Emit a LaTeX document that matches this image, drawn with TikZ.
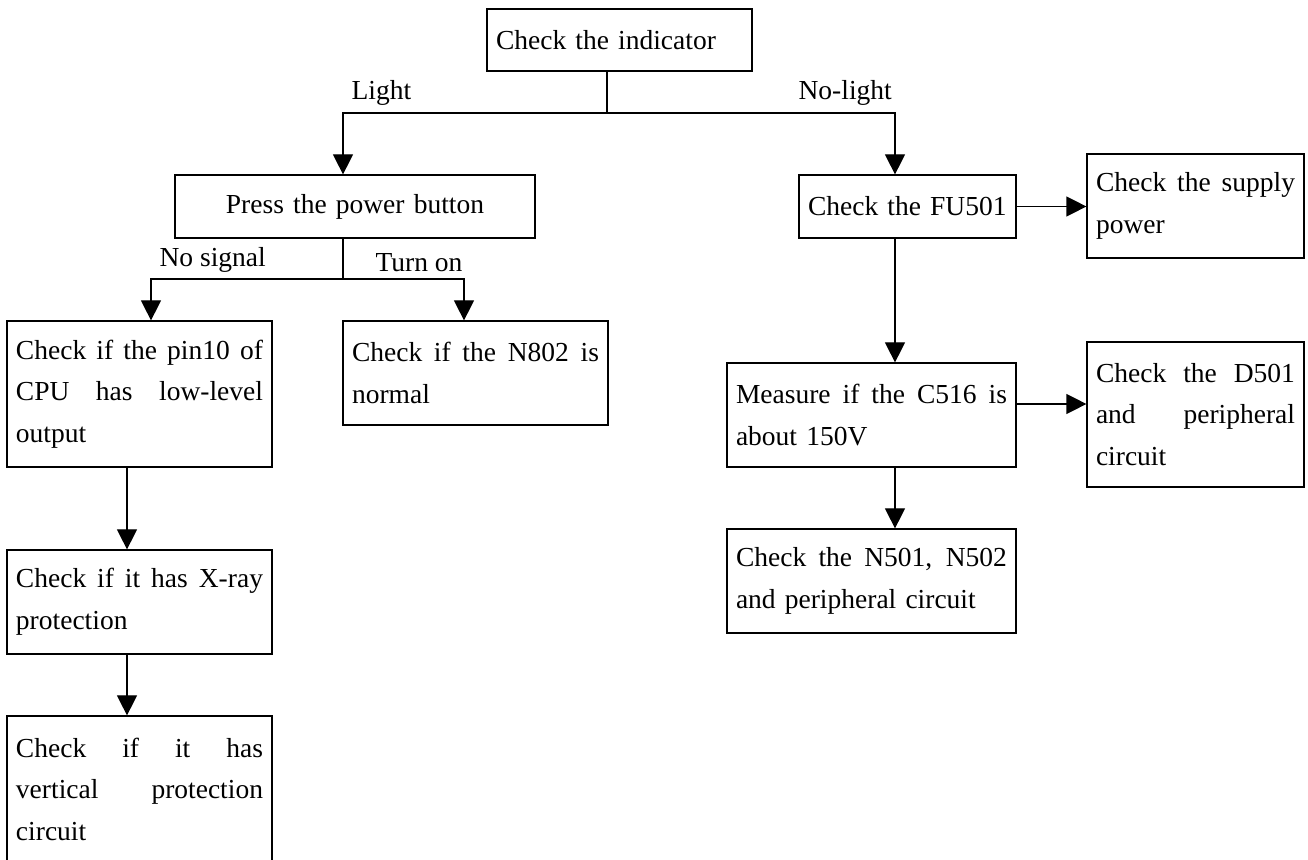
\documentclass[tikz,border=0pt]{standalone}
\usepackage{fontspec}
\setmainfont{Liberation Serif}
\usetikzlibrary{arrows.meta}

\newcommand{\jl}[1]{\makebox[\hsize][s]{\spaceskip=0.25em plus 1fil\relax #1}}

\tikzset{
  box/.style={draw, rectangle, inner xsep=4.5pt, inner ysep=0pt, text width=#1, align=left},
  box/.default=123.5pt,
  lbl/.style={anchor=base west, inner sep=0pt}
}

\begin{document}
\begin{tikzpicture}[x=0.5pt,y=-0.5pt,line width=0.6pt,>={Triangle[length=10pt,width=10pt]},font=\fontsize{13.75pt}{20.75pt}\selectfont]
   \useasboundingbox (0,0) rectangle (1308,860);
   % boxes
   \node[box,minimum height=31pt] (ind) at (619.5,40) {Check the indicator};
   \node[box=171pt,align=center,minimum height=31.5pt] (press) at (355,206.5) {Press the power button};
   \node[box=99.5pt,minimum height=31.5pt] (fu) at (907.5,206.5) {Check the FU501};
   \node[box=99.5pt,minimum height=52pt] (supply) at (1195.5,206) {\jl{Check the supply}\\ power};
   \node[box,minimum height=73pt] (pin) at (139.5,394) {\jl{Check if the pin10 of}\\ \jl{CPU has low-level}\\ output};
   \node[box,minimum height=52pt] (n802) at (475.5,373) {\jl{Check if the N802 is}\\ normal};
   \node[box=135.5pt,minimum height=52pt] (meas) at (871.5,415) {\jl{Measure if the C516 is}\\ about 150V};
   \node[box=99.5pt,minimum height=72.5pt] (d501) at (1195.5,414.5) {\jl{Check the D501}\\ \jl{and peripheral}\\ circuit};
   \node[box=135.5pt,minimum height=52pt] (n501) at (871.5,581) {\jl{Check the N501, N502}\\ and peripheral circuit};
   \node[box,minimum height=52pt] (xray) at (139.5,602) {\jl{Check if it has X-ray}\\ protection};
   \node[box,minimum height=73pt] (vert) at (139.5,789) {\jl{Check if it has}\\ \jl{vertical protection}\\ circuit};
   % labels
   \node[lbl] (light) at (351,100) {Light};
   \node[lbl] (nolight) at (798,100) {No-light};
   \node[lbl] (nosig) at (159,267) {No signal};
   \node[lbl] (turnon) at (375,272) {Turn on};
   % branches
   \coordinate (top split) at (607,113);
   \coordinate (mid split) at (343,279);
   \draw (ind.south -| top split) -- (top split);
   \draw[->] (top split) -| ([xshift=-6pt]press.north);
   \draw[->] (top split) -| ([xshift=-6.25pt]fu.north);
   \draw ([xshift=-6pt]press.south) -- (mid split);
   \draw[->] (mid split) -| ([xshift=5.75pt]pin.north);
   \draw[->] (mid split) -| ([xshift=-5.75pt]n802.north);
   \path[->]
    (fu.east) edge (fu.east -| supply.west)
    ([xshift=-6.25pt]fu.south) edge ([xshift=11.75pt]meas.north)
    ([yshift=5.5pt]meas.east) edge ([yshift=5.25pt]d501.west)
    ([xshift=11.75pt]meas.south) edge ([xshift=11.75pt]n501.north)
    ([xshift=-6.25pt]pin.south) edge ([xshift=-6.25pt]xray.north)
    ([xshift=-6.25pt]xray.south) edge ([xshift=-6.25pt]vert.north);
\end{tikzpicture}
\end{document}
